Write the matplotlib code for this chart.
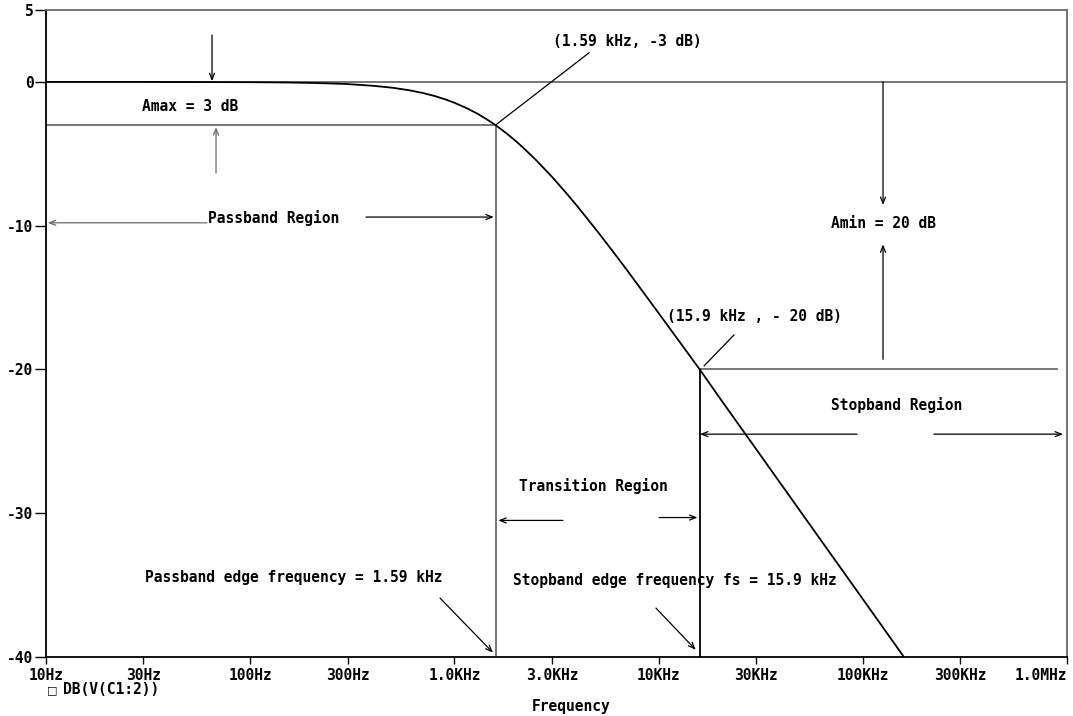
import numpy as np
import matplotlib
matplotlib.use("Agg")
import matplotlib.pyplot as plt
from matplotlib.ticker import FixedLocator, NullLocator

# magnitude response DB(V(C1:2))
freq_hz = [10, 30, 100, 150, 200, 250, 300, 400, 500, 600, 700, 800, 900,
           1000, 1150, 1300, 1450, 1590, 1800, 2000, 2200, 2500, 3000, 3500,
           4000, 5000, 6000, 7000, 10000, 15900, 20000, 30000, 50000, 70000,
           100000, 159000]
gain_db = [0.0, 0.0, -0.02, -0.04, -0.07, -0.11, -0.15, -0.27, -0.41, -0.58,
           -0.77, -0.98, -1.21, -1.45, -1.83, -2.22, -2.63, -3.0, -3.58, -4.12,
           -4.65, -5.41, -6.59, -7.67, -8.65, -10.37, -11.83, -13.09, -16.08,
           -20.0, -22.02, -25.53, -29.96, -32.88, -35.97, -40.0]

# key points
f_pass, a_pass = 1590, -3
f_stop, a_stop = 15900, -20

xticks = [10, 30, 100, 300, 1e3, 3e3, 1e4, 3e4, 1e5, 3e5, 1e6]
xticklabels = ["10Hz", "30Hz", "100Hz", "300Hz", "1.0KHz", "3.0KHz", "10KHz",
               "30KHz", "100KHz", "300KHz", "1.0MHz"]
yticks = [5, 0, -10, -20, -30, -40]

FONT = dict(family="DejaVu Sans Mono", weight="bold", size=10.5)
GREY = "#6a6a6a"

fig = plt.figure(figsize=(10.73, 7.16), dpi=100)
ax = fig.add_axes([0.0429, 0.0824, 0.9515, 0.9036])

ax.set_xscale("log")
ax.set_xlim(10, 1e6)
ax.set_ylim(-40, 5)

ax.plot(freq_hz, gain_db, color="black", lw=1.3, zorder=5)

# reference lines
ax.axhline(0, color=GREY, lw=1.3)
ax.plot([10, f_pass], [a_pass, a_pass], color=GREY, lw=1.3)
ax.plot([f_pass, f_pass], [a_pass, -40], color=GREY, lw=1.3)
ax.plot([f_stop, f_stop], [a_stop, -40], color="black", lw=1.3)
ax.plot([f_stop, 894e3], [a_stop, a_stop], color=GREY, lw=1.3)


def arrow(x0, y0, x1, y1, color="black"):
    ax.annotate("", xy=(x1, y1), xytext=(x0, y0),
                arrowprops=dict(arrowstyle="->,head_length=0.45,head_width=0.18",
                                color=color, lw=0.9, shrinkA=0, shrinkB=0))


def line(x0, y0, x1, y1, color="black"):
    ax.plot([x0, x1], [y0, y1], color=color, lw=0.9)


def label(x, y, s, ha="left"):
    ax.text(x, y, s, ha=ha, va="center", **FONT)


# Amax
arrow(65, 3.27, 65, 0.05)
arrow(68, -6.33, 68, -3.15, color=GREY)
label(29.5, -1.74, "Amax = 3 dB")

# passband region
arrow(61.4, -9.8, 10.2, -9.8, color=GREY)
label(62, -9.5, "Passband Region")
arrow(369, -9.4, 1560, -9.4)

# -3 dB point
label(3040, 2.78, "(1.59 kHz, -3 dB)")
line(4560, 2.02, f_pass, a_pass)

# -20 dB point
label(11000, -16.3, "(15.9 kHz , - 20 dB)")
line(23400, -17.6, 16700, -19.75)

# Amin
arrow(125.6e3, 0, 125.6e3, -8.56)
arrow(125.6e3, -19.3, 125.6e3, -11.3)
label(69.8e3, -9.88, "Amin = 20 dB")

# stopband region
label(69.8e3, -22.5, "Stopband Region")
arrow(93.7e3, -24.5, 15950, -24.5)
arrow(223e3, -24.5, 956e3, -24.5)

# transition region
label(2070, -28.1, "Transition Region")
arrow(3400, -30.5, 1640, -30.5)
arrow(10050, -30.3, 15500, -30.3)

# edge frequencies
label(30.5, -34.5, "Passband edge frequency = 1.59 kHz")
arrow(850, -35.9, 1545, -39.7)
label(1940, -34.7, "Stopband edge frequency fs = 15.9 kHz")
arrow(9710, -36.6, 15200, -39.5)

# axes styling
ax.xaxis.set_major_locator(FixedLocator(xticks))
ax.xaxis.set_minor_locator(NullLocator())
ax.set_xticklabels(xticklabels)
ax.set_yticks(yticks)
ax.set_yticklabels([str(v) for v in yticks])
ax.tick_params(axis="x", direction="out", length=5, width=1, pad=3)
ax.tick_params(axis="y", direction="out", length=8, width=1, pad=1)
for lab in ax.get_xticklabels() + ax.get_yticklabels():
    lab.set_fontfamily(FONT["family"])
    lab.set_fontweight("bold")
    lab.set_fontsize(FONT["size"])
ax.get_xticklabels()[-1].set_horizontalalignment("right")

ax.spines["top"].set_color(GREY)
ax.spines["right"].set_color(GREY)
for s in ax.spines.values():
    s.set_linewidth(1.3)

fig.text(0.0485, 1 - 690 / 716, "\u25a1", ha="center", va="center",
         family="DejaVu Sans", size=8)
fig.text(0.0585, 1 - 690 / 716, "DB(V(C1:2))", ha="left", va="center", **FONT)
fig.text(0.532, 1 - 707 / 716, "Frequency", ha="center", va="center", **FONT)

fig.savefig("out.png", dpi=100, facecolor="white")
